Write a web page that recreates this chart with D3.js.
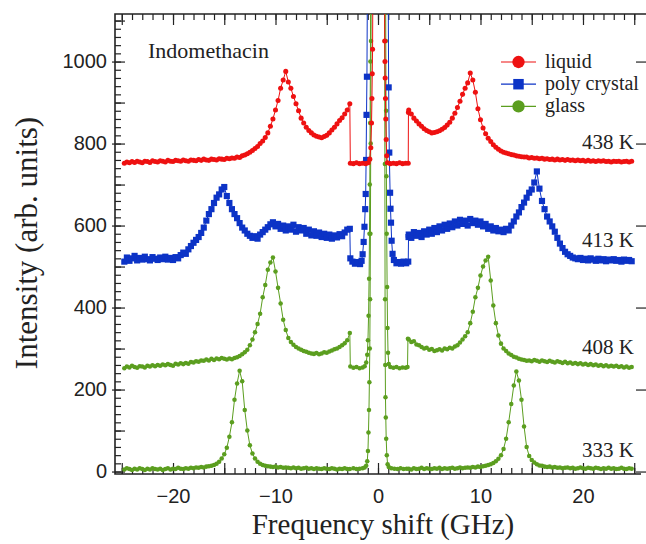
<!DOCTYPE html>
<html>
<head>
<meta charset="utf-8">
<script src="https://cdn.jsdelivr.net/npm/d3@7"></script>
<style>
    body { margin: 0; background: #fff; }
    svg text { fill: #222; }
    .ticklabel text { font-family: "Liberation Sans", Arial, sans-serif; font-size: 20px; fill: #222; }
    .serif { font-family: "Liberation Serif", "Times New Roman", serif; }
</style>
</head>
<body>
<svg id="chart" width="646" height="544"></svg>
<script>
// frequency grid (GHz), outside the central Rayleigh region
var freqLeft = [
    -24.75, -24.5, -24.25, -24, -23.75, -23.5, -23.25, -23,
    -22.75, -22.5, -22.25, -22, -21.75, -21.5, -21.25, -21,
    -20.75, -20.5, -20.25, -20, -19.75, -19.5, -19.25, -19,
    -18.75, -18.5, -18.25, -18, -17.75, -17.5, -17.25, -17,
    -16.75, -16.5, -16.25, -16, -15.75, -15.5, -15.25, -15,
    -14.75, -14.5, -14.25, -14, -13.75, -13.5, -13.25, -13,
    -12.75, -12.5, -12.25, -12, -11.75, -11.5, -11.25, -11,
    -10.75, -10.5, -10.25, -10, -9.75, -9.5, -9.25, -9,
    -8.75, -8.5, -8.25, -8, -7.75, -7.5, -7.25, -7,
    -6.75, -6.5, -6.25, -6, -5.75, -5.5, -5.25, -5,
    -4.75, -4.5, -4.25, -4, -3.75, -3.5, -3.25, -3
];
var freqRight = [
    3, 3.25, 3.5, 3.75, 4, 4.25, 4.5, 4.75,
    5, 5.25, 5.5, 5.75, 6, 6.25, 6.5, 6.75,
    7, 7.25, 7.5, 7.75, 8, 8.25, 8.5, 8.75,
    9, 9.25, 9.5, 9.75, 10, 10.25, 10.5, 10.75,
    11, 11.25, 11.5, 11.75, 12, 12.25, 12.5, 12.75,
    13, 13.25, 13.5, 13.75, 14, 14.25, 14.5, 14.75,
    15, 15.25, 15.5, 15.75, 16, 16.25, 16.5, 16.75,
    17, 17.25, 17.5, 17.75, 18, 18.25, 18.5, 18.75,
    19, 19.25, 19.5, 19.75, 20, 20.25, 20.5, 20.75,
    21, 21.25, 21.5, 21.75, 22, 22.25, 22.5, 22.75,
    23, 23.25, 23.5, 23.75, 24, 24.25, 24.5, 24.75
];

// 438 K liquid (offset 750)
var liquid438Left = [
    752, 755, 753, 756, 754, 757, 755, 753,
    757, 756, 754, 758, 756, 755, 758, 757,
    755, 759, 757, 756, 759, 758, 757, 760,
    758, 757, 760, 759, 758, 761, 759, 762,
    760, 759, 762, 761, 760, 763, 762, 761,
    764, 763, 765, 764, 767, 766, 770, 772,
    775, 779, 783, 788, 793, 800, 806, 815,
    826, 842, 860, 882, 905, 935, 955, 976,
    950, 935, 915, 897, 880, 862, 850, 840,
    832, 826, 821, 818, 816, 814, 817, 820,
    826, 833, 840, 848, 856, 863, 872, 882
];
var liquid438Center = [
    [-2.75, 897], [-2.7, 752], [-2.4, 751], [-2.1, 753], [-1.8, 751], [-1.5, 752], [-1.2, 751],
    [-0.95, 753], [-0.8, 762], [-0.7, 790], [-0.63, 850], [-0.59, 910], [-0.56, 970], [-0.53, 1030],
    [-0.48, 1300], [0.62, 1300], [0.66, 1050], [0.68, 1000], [0.7, 960], [0.73, 910], [0.76, 860],
    [0.8, 810], [0.85, 770], [0.92, 753], [1.2, 751], [1.5, 752], [1.8, 751], [2.1, 753],
    [2.4, 751], [2.7, 752], [2.95, 752], [2.97, 876]
];
var liquid438Right = [
    882, 872, 862, 855, 848, 842, 836, 832,
    829, 826, 827, 829, 831, 835, 839, 845,
    852, 862, 874, 888, 903, 920, 935, 948,
    972, 955, 925, 885, 858, 838, 824, 813,
    805, 797, 791, 786, 782, 779, 777, 775,
    773, 772, 770, 769, 768, 767, 767, 765,
    766, 764, 765, 763, 764, 762, 763, 761,
    762, 760, 762, 760, 761, 759, 761, 759,
    760, 758, 760, 758, 759, 757, 759, 757,
    758, 756, 758, 757, 758, 756, 757, 755,
    757, 756, 757, 755, 756, 757, 755, 757
];

// 413 K poly crystal (offset 510)
var poly413Left = [
    512, 522, 514, 520, 526, 515, 521, 517,
    524, 518, 515, 523, 519, 516, 522, 518,
    524, 517, 521, 516, 523, 520, 528, 534,
    531, 542, 550, 558, 565, 572, 582, 595,
    612, 628, 640, 655, 668, 676, 688, 694,
    672, 655, 640, 628, 618, 606, 595, 588,
    580, 575, 570, 574, 568, 578, 584, 590,
    596, 603, 608, 598, 604, 592, 600, 588,
    598, 590, 602, 585, 596, 588, 594, 580,
    590, 576, 586, 575, 583, 572, 580, 570,
    578, 568, 576, 571, 579, 574, 583, 590
];
var poly413Center = [
    [-2.75, 592], [-2.7, 520], [-2.5, 512], [-2.25, 507], [-2, 511], [-1.75, 506], [-1.6, 514],
    [-1.5, 530], [-1.4, 560], [-1.32, 597], [-1.25, 640], [-1.2, 677], [-1.16, 760], [-1.12, 870],
    [-1.08, 963], [-1.02, 1250], [0.98, 1250], [1.04, 937], [1.1, 778], [1.18, 680], [1.22, 641],
    [1.27, 607], [1.33, 563], [1.42, 531], [1.55, 516], [1.8, 508], [2, 511], [2.25, 507],
    [2.5, 512], [2.75, 508], [2.95, 512], [2.98, 572]
];
var poly413Right = [
    578, 570, 584, 575, 582, 572, 586, 578,
    590, 580, 594, 584, 598, 588, 602, 592,
    605, 596, 610, 600, 614, 604, 612, 600,
    616, 606, 612, 602, 610, 598, 604, 592,
    598, 588, 594, 586, 590, 584, 592, 588,
    600, 610, 622, 632, 645, 656, 668, 680,
    688, 705, 732, 690, 660, 640, 622, 610,
    598, 585, 570, 556, 545, 536, 530, 526,
    522, 520, 518, 521, 516, 519, 515, 520,
    517, 514, 519, 515, 518, 513, 517, 515,
    518, 514, 516, 512, 517, 514, 516, 513
];

// 408 K glass (offset 250)
var glass408Left = [
    252, 256, 254, 258, 255, 253, 257, 256,
    254, 258, 256, 259, 257, 260, 258, 261,
    259, 262, 260, 258, 263, 261, 264, 262,
    265, 263, 267, 266, 269, 268, 271, 270,
    273, 271, 275, 272, 276, 274, 277, 275,
    273, 276, 274, 277, 279, 282, 286, 291,
    297, 308, 322, 340, 360, 385, 425, 455,
    492, 510, 522, 488, 448, 410, 370, 345,
    326, 316, 309, 304, 300, 297, 294, 292,
    290, 288, 287, 289, 286, 288, 291, 290,
    293, 295, 298, 300, 304, 308, 313, 320
];
var glass408Center = [
    [-2.75, 338], [-2.7, 256], [-2.4, 253], [-2.1, 255], [-1.8, 252], [-1.5, 254], [-1.3, 257],
    [-1.15, 266], [-1.05, 285], [-0.98, 320], [-0.92, 380], [-0.87, 470], [-0.83, 580], [-0.8, 700],
    [-0.77, 850], [-0.74, 1000], [-0.7, 1300], [0.72, 1300], [0.76, 1050], [0.79, 880], [0.82, 720],
    [0.85, 580], [0.89, 450], [0.93, 350], [0.98, 290], [1.05, 262], [1.2, 255], [1.5, 253],
    [1.8, 255], [2.1, 252], [2.4, 254], [2.7, 253], [2.88, 255], [2.92, 324]
];
var glass408Right = [
    322, 316, 318, 310, 308, 304, 300, 302,
    297, 299, 294, 296, 298, 295, 300, 298,
    302, 300, 305, 308, 315, 322, 330, 340,
    362, 390, 425, 448, 478, 500, 515, 524,
    466, 405, 362, 332, 312, 300, 294, 288,
    284, 280, 278, 275, 273, 272, 270, 271,
    269, 272, 270, 268, 271, 269, 267, 270,
    268, 266, 269, 267, 265, 268, 264, 266,
    263, 265, 262, 264, 261, 263, 260, 262,
    259, 261, 258, 260, 257, 259, 256, 258,
    256, 258, 255, 257, 254, 256, 253, 255
];

// 333 K glass (offset 0)
var glass333Left = [
    5, 8, 6, 4, 7, 5, 8, 6,
    4, 7, 5, 8, 6, 5, 7, 4,
    6, 8, 5, 7, 6, 9, 7, 6,
    8, 7, 9, 8, 10, 9, 11, 10,
    12, 13, 14, 16, 19, 24, 32, 42,
    58, 85, 120, 175, 215, 246, 220, 150,
    100, 64, 44, 32, 24, 19, 16, 14,
    13, 12, 11, 12, 10, 11, 9, 10,
    9, 8, 10, 8, 9, 7, 8, 9,
    7, 8, 6, 8, 7, 6, 8, 7,
    6, 8, 7, 5, 7, 6, 8, 6
];
var glass333Center = [
    [-2.75, 6], [-2.4, 8], [-2.1, 6], [-1.8, 7], [-1.5, 8], [-1.3, 10], [-1.15, 14], [-1.05, 25],
    [-0.98, 50], [-0.93, 95], [-0.88, 150], [-0.84, 218], [-0.8, 300], [-0.77, 420], [-0.74, 580],
    [-0.71, 800], [-0.68, 1050], [-0.64, 1400], [0.62, 1400], [0.65, 1050], [0.67, 750], [0.69, 420],
    [0.71, 260], [0.73, 181], [0.76, 132], [0.8, 80], [0.86, 40], [0.94, 18], [1.05, 11],
    [1.3, 8], [1.6, 7], [1.9, 6], [2.2, 8], [2.5, 6], [2.8, 7]
];
var glass333Right = [
    7, 5, 8, 6, 7, 9, 6, 8,
    7, 6, 8, 7, 9, 6, 8, 7,
    8, 9, 7, 8, 10, 8, 9, 10,
    9, 11, 10, 12, 11, 13, 14, 16,
    18, 21, 25, 31, 40, 55, 80, 120,
    165, 210, 244, 222, 175, 110, 60, 38,
    28, 22, 18, 15, 14, 12, 11, 12,
    10, 11, 9, 10, 8, 9, 10, 8,
    9, 7, 8, 10, 8, 7, 9, 8,
    7, 9, 8, 6, 8, 7, 9, 7,
    8, 6, 7, 9, 7, 6, 8, 7
];

var tempLabels = ["438 K", "413 K", "408 K", "333 K"];
var tempBaselines = [750, 510, 250, 0];
var legendNames = ["liquid", "poly crystal", "glass"];
var xLabelTicks = [-20, -10, 0, 10, 20];
var yLabelTicks = [0, 200, 400, 600, 800, 1000];

var RED = "#ee1111", BLUE = "#0c33c6", GREEN = "#5b9e1f";

function buildPoints(leftVals, center, rightVals) {
    var pts = [];
    freqLeft.forEach(function (f, i) { pts.push([f, leftVals[i]]); });
    center.forEach(function (p) { pts.push(p); });
    freqRight.forEach(function (f, i) { pts.push([f, rightVals[i]]); });
    return pts.sort(function (a, b) { return a[0] - b[0]; });
}

var series = [
    { pts: buildPoints(glass333Left, glass333Center, glass333Right), color: GREEN, symbol: d3.symbolCircle, size: 16 },
    { pts: buildPoints(glass408Left, glass408Center, glass408Right), color: GREEN, symbol: d3.symbolCircle, size: 16 },
    { pts: buildPoints(poly413Left, poly413Center, poly413Right), color: BLUE, symbol: d3.symbolSquare, size: 38 },
    { pts: buildPoints(liquid438Left, liquid438Center, liquid438Right), color: RED, symbol: d3.symbolCircle, size: 20 }
];

var svg = d3.select("#chart"),
    plotLeft = 115, plotTop = 14,
    width = 641 - plotLeft,
    height = 474 - plotTop,
    g = svg.append("g").attr("transform", "translate(" + plotLeft + "," + plotTop + ")");

var x = d3.scaleLinear().domain([-25.66, 25.66]).range([0, width]);
var y = d3.scaleLinear().domain([-6, 1116]).range([height, 0]);

svg.append("defs").append("clipPath").attr("id", "plotclip")
    .append("rect").attr("width", width).attr("height", height);

// ticks (inward)
function tickAxis(axis, sel) {
    sel.call(axis.tickFormat(""));
    sel.select(".domain").remove();
    sel.selectAll(".tick line").attr("stroke", "#222").attr("stroke-width", 1.2);
}
var xMinor = d3.range(-25, 26, 1), xMajor = d3.range(-25, 26, 5);
var yMinor = d3.range(0, 1101, 20), yMajor = d3.range(0, 1101, 100);

tickAxis(d3.axisTop(x).tickValues(xMinor).tickSize(6), g.append("g").attr("transform", "translate(0," + height + ")"));
tickAxis(d3.axisTop(x).tickValues(xMajor).tickSize(11), g.append("g").attr("transform", "translate(0," + height + ")"));
tickAxis(d3.axisBottom(x).tickValues(xMinor).tickSize(6), g.append("g"));
tickAxis(d3.axisBottom(x).tickValues(xMajor).tickSize(11), g.append("g"));
tickAxis(d3.axisRight(y).tickValues(yMinor).tickSize(6), g.append("g"));
tickAxis(d3.axisRight(y).tickValues(yMajor).tickSize(10), g.append("g"));
tickAxis(d3.axisLeft(y).tickValues(yLabelTicks).tickSize(5), g.append("g").attr("transform", "translate(" + width + ",0)"));
tickAxis(d3.axisRight(y).tickValues(yLabelTicks).tickSize(5), g.append("g").attr("transform", "translate(" + width + ",0)"));

// tick labels
var yAx = g.append("g").attr("class", "ticklabel")
    .call(d3.axisLeft(y).tickValues(yLabelTicks).tickSize(3).tickPadding(5).tickFormat(d3.format("d")));
yAx.select(".domain").remove();
yAx.selectAll(".tick line").attr("stroke", "#222").attr("stroke-width", 1.2);

var xAx = g.append("g").attr("class", "ticklabel")
    .attr("transform", "translate(0," + height + ")")
    .call(d3.axisBottom(x).tickValues(xLabelTicks).tickSize(0).tickPadding(15));
xAx.select(".domain").remove();

// frame
g.append("path")
    .attr("d", "M" + (width + 5) + ",0H0V" + height + "H" + width)
    .attr("fill", "none").attr("stroke", "#222").attr("stroke-width", 1.6);

// data
var line = d3.line()
    .x(function (d) { return x(d[0]); })
    .y(function (d) { return y(d[1]); });

var plot = g.append("g").attr("clip-path", "url(#plotclip)");
series.forEach(function (s) {
    plot.append("path")
        .datum(s.pts)
        .attr("fill", "none")
        .attr("stroke", s.color)
        .attr("stroke-width", 1)
        .attr("d", line);
    plot.append("g").selectAll("path")
        .data(s.pts)
        .enter()
        .append("path")
        .attr("transform", function (d) { return "translate(" + x(d[0]) + "," + y(d[1]) + ")"; })
        .attr("d", d3.symbol().type(s.symbol).size(s.size))
        .attr("fill", s.color);
});

// temperature labels
g.selectAll(".temp")
    .data(tempLabels)
    .enter()
    .append("text")
    .attr("class", "serif")
    .attr("x", width - 7)
    .attr("y", function (d, i) { return y(tempBaselines[i]) - 15; })
    .attr("text-anchor", "end")
    .style("font-size", "21px")
    .text(function (d) { return d; });

g.append("text")
    .attr("class", "serif")
    .attr("x", 33)
    .attr("y", 44)
    .style("font-size", "22px")
    .text("Indomethacin");

// legend
var legendColors = [RED, BLUE, GREEN],
    legendSymbols = [d3.symbolCircle, d3.symbolSquare, d3.symbolCircle],
    legendSizes = [120, 110, 120];
var legend = svg.append("g").attr("transform", "translate(501,62)");
legendNames.forEach(function (name, i) {
    var row = legend.append("g").attr("transform", "translate(0," + (i * 22.2) + ")");
    row.append("line").attr("x1", 0).attr("x2", 35).attr("y1", 0).attr("y2", 0)
        .attr("stroke", legendColors[i]).attr("stroke-width", 1.2);
    row.append("path").attr("transform", "translate(17.5,0)")
        .attr("d", d3.symbol().type(legendSymbols[i]).size(legendSizes[i]))
        .attr("fill", legendColors[i]);
    row.append("text").attr("class", "serif")
        .attr("x", 44).attr("y", 6)
        .style("font-size", "20px")
        .text(name);
});

// axis titles
svg.append("text")
    .attr("class", "serif")
    .attr("x", 383)
    .attr("y", 534)
    .attr("text-anchor", "middle")
    .style("font-size", "29px")
    .text("Frequency shift (GHz)");

svg.append("text")
    .attr("class", "serif")
    .attr("transform", "translate(37,243) rotate(-90)")
    .attr("text-anchor", "middle")
    .style("font-size", "31px")
    .text("Intensity (arb. units)");
</script>
</body>
</html>
